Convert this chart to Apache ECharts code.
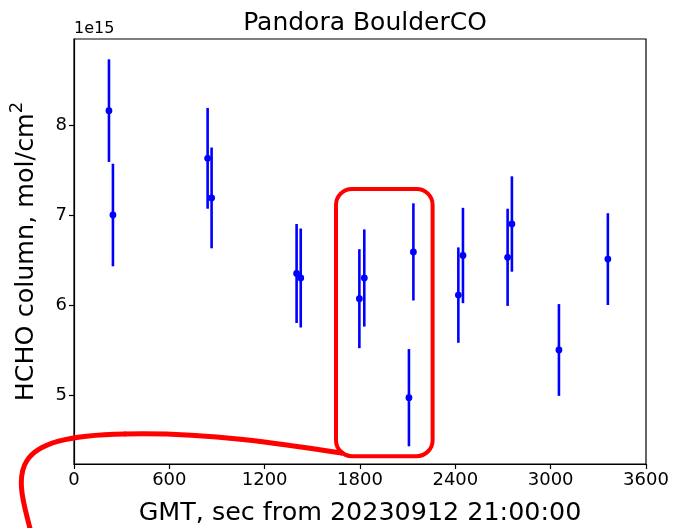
<!DOCTYPE html>
<html>
<head>
<meta charset="utf-8">
<script src="https://cdn.jsdelivr.net/npm/echarts@6/dist/echarts.min.js"></script>
<style>
  html, body { margin: 0; padding: 0; background: #fff; }
  #chart { width: 674px; height: 528px; }
</style>
</head>
<body>
<div id="chart"></div>
<script>
// Pandora HCHO column retrievals, seconds after 2023-09-12 21:00:00 GMT (values in 1e15 mol/cm2)
const times  = [220, 245, 841, 866, 1401, 1427, 1796, 1827, 2108, 2136, 2419, 2448, 2729, 2756, 3052, 3360];
const values = [8.16, 7.00, 7.63, 7.19, 6.35, 6.30, 6.07, 6.30, 4.97, 6.59, 6.11, 6.55, 6.53, 6.90, 5.50, 6.51];
const errors = [0.57, 0.57, 0.56, 0.56, 0.55, 0.55, 0.55, 0.54, 0.54, 0.54, 0.53, 0.53, 0.54, 0.53, 0.51, 0.51];

const xTicks = [0, 600, 1200, 1800, 2400, 3000, 3600];
const yTicks = [5, 6, 7, 8];

// highlighted window (time range, column range)
const boxTimes = [1649, 2257];
const boxValues = [4.32, 7.29];

const FONT = 'DejaVu Sans';
const rows = times.map((t, i) => [t, values[i], values[i] - errors[i], values[i] + errors[i]]);

const chart = echarts.init(document.getElementById('chart'), null, { renderer: 'canvas' });

chart.setOption({
  animation: false,
  backgroundColor: '#ffffff',
  title: {
    text: 'Pandora BoulderCO',
    left: 360, textAlign: 'center', top: 6,
    textStyle: { fontFamily: FONT, fontSize: 25, fontWeight: 'normal', color: '#000' }
  },
  grid: {
    left: 74, right: 28, top: 39, bottom: 64,
    outerBoundsMode: 'none', containLabel: false,
    show: true, borderColor: '#000', borderWidth: 1.2, backgroundColor: 'transparent'
  },
  xAxis: {
    type: 'value', min: 0, max: 3600, interval: 600,
    name: 'GMT, sec from 20230912 21:00:00',
    nameLocation: 'middle', nameGap: 37,
    nameTextStyle: { fontFamily: FONT, fontSize: 25.4, color: '#000' },
    axisLine: { show: true, onZero: false, lineStyle: { color: '#000', width: 1.2 } },
    axisTick: { show: true, inside: false, length: 5, lineStyle: { color: '#000', width: 1.2 } },
    axisLabel: {
      fontFamily: FONT, fontSize: 18, color: '#000', margin: 7,
      customValues: xTicks, formatter: v => String(v)
    },
    splitLine: { show: false }
  },
  yAxis: {
    type: 'value', min: 4.233, max: 8.956,
    name: 'HCHO column, mol/cm{sup|2}',
    nameLocation: 'middle', nameRotate: 90, nameGap: 24,
    nameTextStyle: {
      fontFamily: FONT, fontSize: 25.4, color: '#000', lineHeight: 36,
      rich: {
        sup: { fontFamily: FONT, fontSize: 18, color: '#000', verticalAlign: 'top', lineHeight: 22 }
      }
    },
    axisLine: { show: true, onZero: false, lineStyle: { color: '#000', width: 1.2 } },
    axisTick: { show: true, inside: false, length: 5, lineStyle: { color: '#000', width: 1.2 }, customValues: yTicks },
    axisLabel: {
      fontFamily: FONT, fontSize: 18, color: '#000', margin: 7,
      customValues: yTicks, formatter: v => String(v)
    },
    splitLine: { show: false }
  },
  series: [{
    type: 'custom',
    data: rows,
    clip: false,
    renderItem: function (params, api) {
      const x = api.value(0);
      const c = api.coord([x, api.value(1)]);
      const lo = api.coord([x, api.value(2)]);
      const hi = api.coord([x, api.value(3)]);
      return {
        type: 'group',
        children: [
          { type: 'line', shape: { x1: lo[0], y1: lo[1], x2: hi[0], y2: hi[1] },
            style: { stroke: '#0000ff', lineWidth: 2.6 } },
          { type: 'circle', shape: { cx: c[0], cy: c[1], r: 3.4 },
            style: { fill: '#0000ff', stroke: null } }
        ]
      };
    }
  }]
});

// offset label and highlight annotation
const p0 = chart.convertToPixel({ gridIndex: 0 }, [boxTimes[0], boxValues[1]]);
const p1 = chart.convertToPixel({ gridIndex: 0 }, [boxTimes[1], boxValues[0]]);
const bx = p0[0], by = p0[1], bw = p1[0] - p0[0], bh = p1[1] - p0[1];
const ex = bx + 6, ey = by + bh - 3;

chart.setOption({
  graphic: [
    {
      type: 'text', x: 74, y: 21,
      style: { text: '1e15', fontFamily: FONT, fontSize: 16, fill: '#000' }
    },
    {
      type: 'rect', z: 100,
      shape: { x: bx, y: by, width: bw, height: bh, r: 16 },
      style: { fill: 'none', stroke: '#ff0000', lineWidth: 4 }
    },
    {
      type: 'bezierCurve', z: 100,
      shape: { x1: 31, y1: 532, cpx1: 14, cpy1: 470, cpx2: 6, cpy2: 436, x2: 125, y2: 434 },
      style: { fill: 'none', stroke: '#ff0000', lineWidth: 5, lineCap: 'round' }
    },
    {
      type: 'bezierCurve', z: 100,
      shape: { x1: 125, y1: 434, cpx1: 210, cpy1: 432, cpx2: 290, cpy2: 445, x2: ex, y2: ey },
      style: { fill: 'none', stroke: '#ff0000', lineWidth: 5, lineCap: 'round' }
    }
  ]
});
</script>
</body>
</html>
